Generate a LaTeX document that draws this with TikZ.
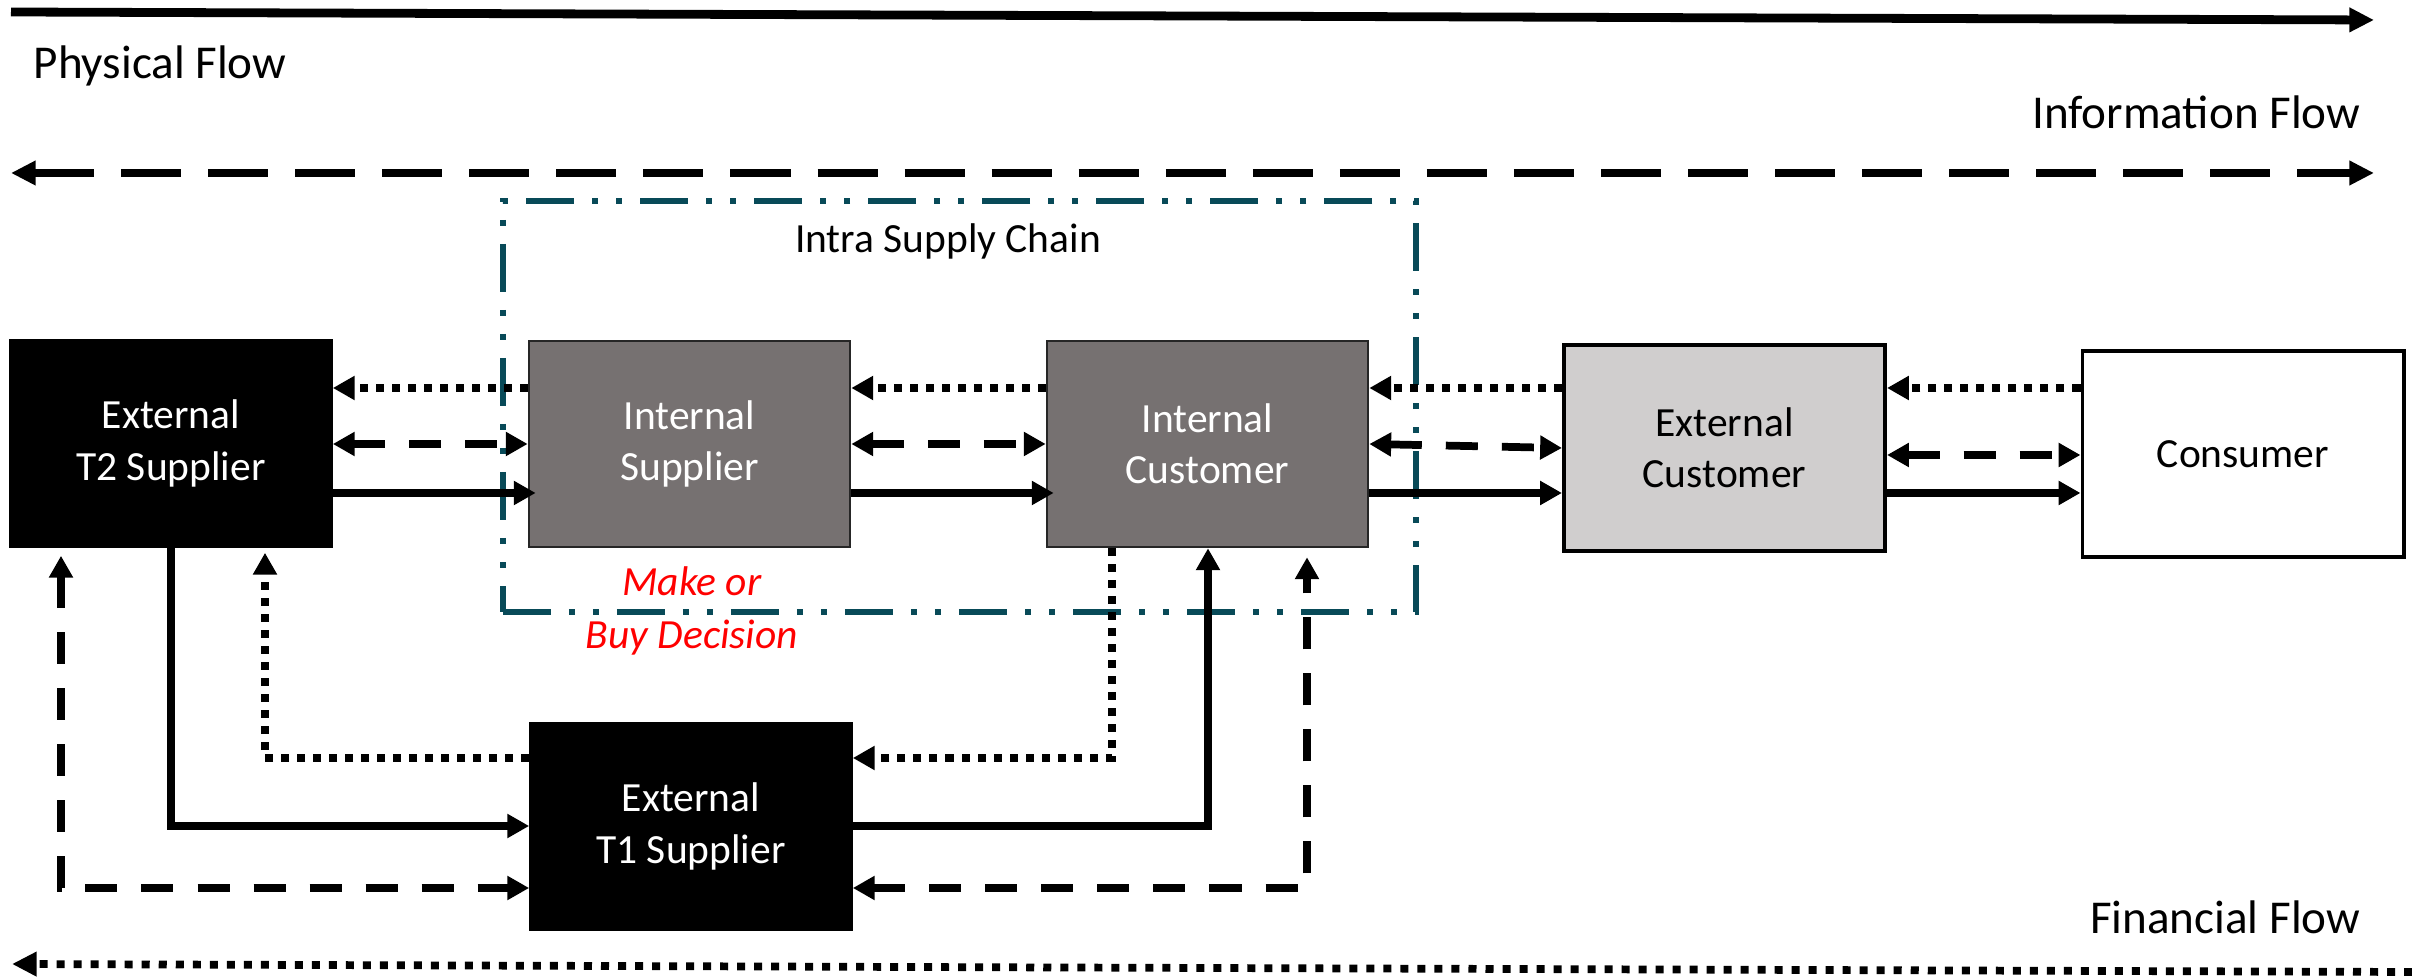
\documentclass[tikz,border=0pt]{standalone}
\usepackage{fontspec}
\setmainfont{Carlito}
\usetikzlibrary{arrows.meta,calc}
\definecolor{intgray}{HTML}{767171}
\definecolor{extgray}{HTML}{D0CECE}
\definecolor{chainteal}{RGB}{8,74,88}
\definecolor{decred}{RGB}{255,0,0}
\tikzset{
  bigtip/.tip={Triangle[length=7pt,width=6.6pt]},
  smalltip/.tip={Triangle[length=6.2pt,width=6.5pt]},
}

\begin{document}
\begin{tikzpicture}[x=0.01cm,y=-0.01cm,
  box/.style={line width=0.7pt, minimum width=3.21cm, minimum height=2.06cm,
    inner sep=0pt, align=center, font=\fontsize{11.8}{14.6}\selectfont},
  blackbox/.style={box, draw=black, fill=black, text=white},
  intbox/.style={box, draw=black!85, fill=intgray, text=white},
  extbox/.style={box, draw=black, line width=1.1pt, fill=extgray, text=black},
  plainbox/.style={box, draw=black, line width=1.1pt, fill=white, text=black},
  flowlabel/.style={inner sep=0pt, font=\fontsize{13.4}{16}\selectfont},
  tipend/.style={-{smalltip}},
  tipboth/.style={{smalltip}-{smalltip}},
  solidflow/.style={line width=2.2pt},
  dashflow/.style={line width=2.2pt, dash pattern=on 0.32cm off 0.24cm},
  dotflow/.style={line width=2.2pt, dash pattern=on 0.08cm off 0.08cm},
  into/.style={shorten >=-0.08cm},
  chainframe/.style={draw=chainteal, line width=1.7pt,
    dash pattern=on 0.48cm off 0.18cm on 0.06cm off 0.18cm on 0.06cm off 0.18cm},
]
\useasboundingbox (0,0) rectangle (2412,980);

% frame of the intra supply chain
\node[chainframe, minimum width=9.13cm, minimum height=4.11cm, inner sep=0pt]
  (intra) at (959.5,406.5) {};
\node[inner sep=0pt, font=\fontsize{11.8}{14}\selectfont, anchor=base]
  (intralbl) at (948,253) {Intra Supply Chain};

% actors
\node[blackbox] (t2)   at (171,443.5)  {External\\T2 Supplier};
\node[intbox]   (isup) at (689.5,444)  {Internal\\Supplier};
\node[intbox]   (icus) at (1207.5,444) {Internal\\Customer};
\node[extbox]   (ecus) at (1724.5,448) {External\\Customer};
\node[plainbox] (cons) at (2243,454)   {Consumer};
\node[blackbox] (t1)   at (691,826.5)  {External\\T1 Supplier};

\node[inner sep=0pt, align=center, text=decred,
  font=\fontsize{11.8}{15}\selectfont\itshape] (mob) at (692,611)
  {Make or\\Buy Decision};

% legend arrows
\coordinate (pfL) at (11,12);
\coordinate (pfR) at (2374,20);
\coordinate (ifL) at (11,173);
\coordinate (ifR) at (2374,173);
\coordinate (ffL) at (12,964);
\coordinate (ffR) at (2412,972);
\draw[line width=2.5pt, -{bigtip}] (pfL) -- (pfR);
\draw[line width=2.2pt, dash pattern=on 0.6cm off 0.27cm, {bigtip}-{bigtip}] (ifL) -- (ifR);
\draw[line width=2.2pt, dash pattern=on 0.08cm off 0.09cm, -{bigtip}] (ffR) -- (ffL);

\node[flowlabel, anchor=base west] (pflbl) at (33,79) {Physical Flow};
\node[flowlabel, anchor=base east] (iflbl) at (2361,129) {Information Flow};
\node[flowlabel, anchor=base east] (fflbl) at (2361,934) {Financial Flow};

% main chain: financial (dotted), information (dashed), physical (solid)
\draw[dotflow,tipend] (isup.west |- 0,388) -- (t2.east |- 0,388);
\draw[dotflow,tipend] (icus.west |- 0,388) -- (isup.east |- 0,388);
\draw[dotflow,tipend] (ecus.west |- 0,388) -- (icus.east |- 0,388);
\draw[dotflow,tipend] (cons.west |- 0,388) -- (ecus.east |- 0,388);

\draw[dashflow,tipboth] (t2.east |- 0,444) -- (isup.west |- 0,444);
\draw[dashflow,tipboth] (isup.east |- 0,444) -- (icus.west |- 0,444);
\draw[dashflow,tipboth] (icus.east |- 0,444) -- (ecus.west |- 0,448);
\draw[dashflow,tipboth] (ecus.east |- 0,455) -- (cons.west |- 0,455);

\draw[solidflow,tipend,into] (t2.east |- 0,493) -- (isup.west |- 0,493);
\draw[solidflow,tipend,into] (isup.east |- 0,493) -- (icus.west |- 0,493);
\draw[solidflow,tipend] (icus.east |- 0,493) -- (ecus.west |- 0,493);
\draw[solidflow,tipend] (ecus.east |- 0,493) -- (cons.west |- 0,493);

% T1 supplier links
\draw[solidflow,tipend] (t2.south) |- (t1.west |- 0,826);
\draw[dashflow,tipboth] ($(t2.south -| 61,0)+(0,8)$) |- (t1.west |- 0,888);
\draw[dotflow,tipend] (t1.west |- 0,758) -| ($(t2.south -| 265,0)+(0,5)$);

\draw[dotflow,tipend] (icus.south -| 1112,0) |- (t1.east |- 0,758);
\draw[solidflow,tipend] (t1.east |- 0,826) -| (icus.south -| 1208,0);
\draw[dashflow,tipboth] (t1.east |- 0,888) -| ($(icus.south -| 1307,0)+(0,9)$);
\end{tikzpicture}
\end{document}
